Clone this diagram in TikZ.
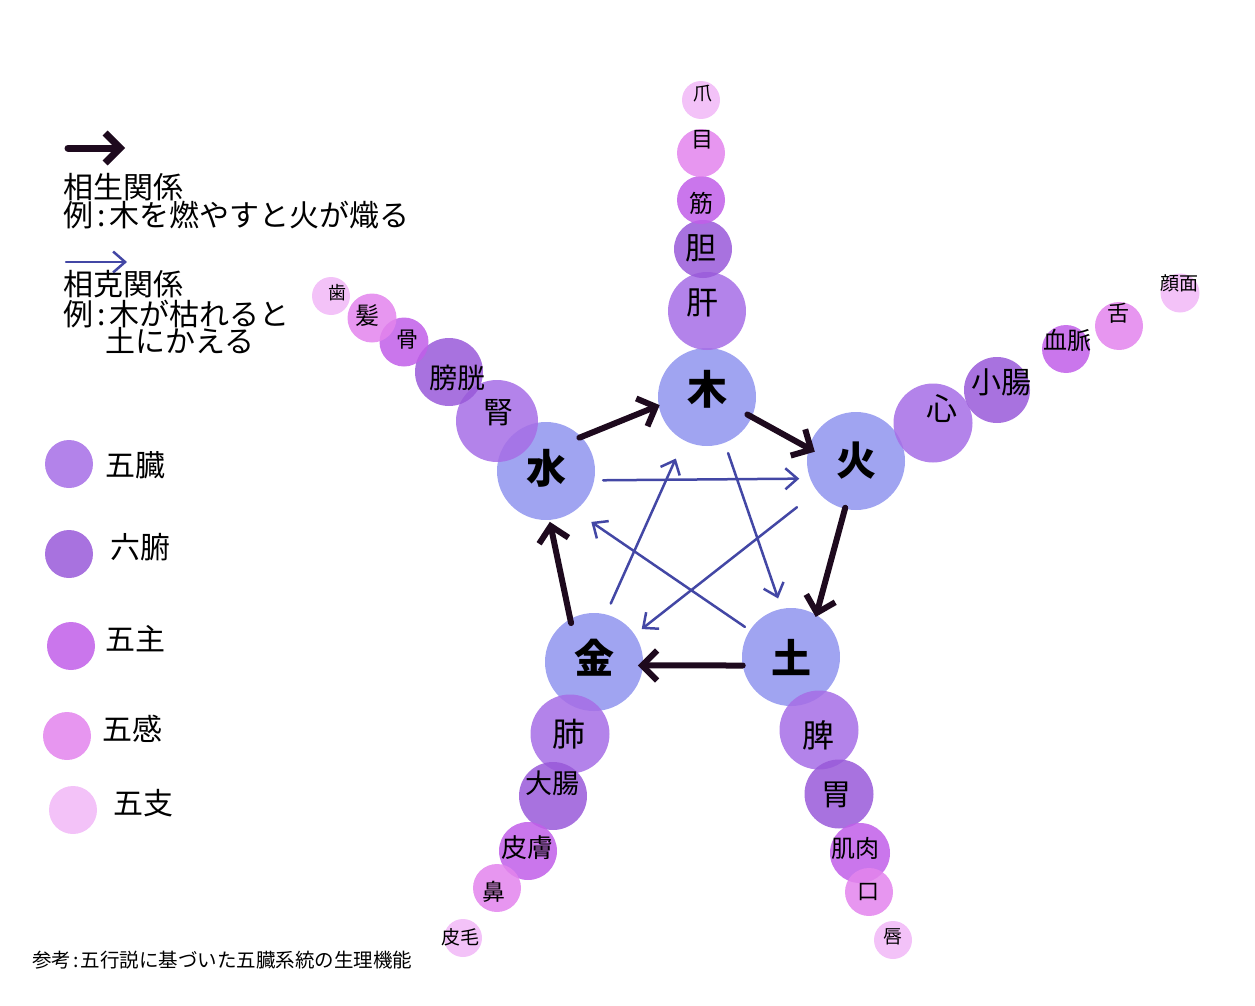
\documentclass[tikz,border=0pt]{standalone}
\usepackage{fontspec}
\newfontfamily\jpfont{Noto Sans CJK JP}
\usetikzlibrary{arrows.meta}
\definecolor{elemblue}{RGB}{160,164,241}
\definecolor{gozocol}{RGB}{166,109,230}
\definecolor{roppucol}{RGB}{153,89,217}
\definecolor{goshucol}{RGB}{193,94,233}
\definecolor{gokancol}{RGB}{227,132,237}
\definecolor{goshicol}{RGB}{241,183,247}
\definecolor{shengcol}{RGB}{30,10,30}
\definecolor{kecol}{RGB}{67,71,165}
\newcommand\jpsize[1]{\jpfont\fontsize{#1}{#1}\selectfont}
\newcommand\jpcolon{\hspace{4pt}:\hspace{4pt}}

\begin{document}
\begin{tikzpicture}[x=1pt, y=-1pt,
  elem/.style={circle, fill=elemblue, inner sep=0pt, outer sep=0pt,
    minimum size=98pt, font=\jpsize{40}\bfseries},
  organ/.style={circle, inner sep=0pt, outer sep=0pt, fill opacity=0.85},
  gozo/.style={organ, fill=gozocol},
  roppu/.style={organ, fill=roppucol},
  goshu/.style={organ, fill=goshucol},
  gokan/.style={organ, fill=gokancol},
  goshi/.style={organ, fill=goshicol},
  lbl/.style={inner sep=0pt, text=black},
  sheng/.style={shengcol, line width=6pt, line cap=round,
    -{Straight Barb[length=15pt,width=30pt]}},
  ke/.style={kecol, line width=2.5pt, line cap=round,
    -{Straight Barb[length=12pt,width=21pt]}}]

\useasboundingbox (0,0) rectangle (1255,1006);

% Five elements
\node[elem] (moku) at (707,397) {\raisebox{8pt}[\height][\depth]{木}};
\node[elem] (ka)   at (856,461) {火};
\node[elem] (do)   at (791,657) {土};
\node[elem] (gon)  at (594,662) {\raisebox{4pt}[\height][\depth]{金}};
\node[elem] (sui)  at (546,471) {\raisebox{3pt}[\height][\depth]{水}};

% Wood chain
\node[gozo,  minimum size=78pt] (kan)   at (707,311) {};
\node[roppu, minimum size=58pt] (tan)   at (703,249) {};
\node[goshu, minimum size=48pt] (suji)  at (701,200) {};
\node[gokan, minimum size=48pt] (me)    at (701,153) {};
\node[goshi, minimum size=38pt] (tsume) at (701,100) {};
\node[lbl, font=\jpsize{32}] (kan-t)   at (702,303) {肝};
\node[lbl, font=\jpsize{31}] (tan-t)   at (701,248) {胆};
\node[lbl, font=\jpsize{24}] (suji-t)  at (701,203) {筋};
\node[lbl, font=\jpsize{22}] (me-t)    at (702,140) {目};
\node[lbl, font=\jpsize{19}] (tsume-t) at (703,94) {爪};

% Fire chain
\node[gozo,  minimum size=79pt] (shin)   at (933,423) {};
\node[roppu, minimum size=66pt] (shocho) at (997,390) {};
\node[goshu, minimum size=48pt] (ketsu)  at (1066,349) {};
\node[gokan, minimum size=48pt] (shita)  at (1119,326) {};
\node[goshi, minimum size=39pt] (ganmen) at (1180,293) {};
\node[lbl, font=\jpsize{31}] (shin-t)   at (942,409) {心};
\node[lbl, font=\jpsize{30}] (shocho-t) at (1001,382) {小腸};
\node[lbl, font=\jpsize{24}] (ketsu-t)  at (1067,340) {血脈};
\node[lbl, font=\jpsize{22}] (shita-t)  at (1118,313) {舌};
\node[lbl, font=\jpsize{19}] (ganmen-t) at (1179,283) {顔面};

% Earth chain
\node[gozo,  minimum size=79pt] (hi)        at (819,730) {};
\node[roppu, minimum size=69pt] (i)         at (839,794) {};
\node[goshu, minimum size=60pt] (kiniku)    at (860,853) {};
\node[gokan, minimum size=48pt] (kuchi)     at (869,892) {};
\node[goshi, minimum size=38pt] (kuchibiru) at (893,940) {};
\node[lbl, font=\jpsize{32}] (hi-t)        at (818,735) {脾};
\node[lbl, font=\jpsize{30}] (i-t)         at (836,795) {胃};
\node[lbl, font=\jpsize{24}] (kiniku-t)    at (855,848) {肌肉};
\node[lbl, font=\jpsize{22}] (kuchi-t)     at (868,892) {口};
\node[lbl, font=\jpsize{19}] (kuchibiru-t) at (893,937) {唇};

% Metal chain
\node[gozo,  minimum size=79pt] (hai)    at (570,734) {};
\node[roppu, minimum size=68pt] (daicho) at (553,796) {};
\node[goshu, minimum size=58pt] (hifu)   at (528,851) {};
\node[gokan, minimum size=48pt] (hana)   at (497,888) {};
\node[goshi, minimum size=38pt] (himo)   at (463,938) {};
\node[lbl, font=\jpsize{33}] (hai-t)    at (569,734) {肺};
\node[lbl, font=\jpsize{27}] (daicho-t) at (552,783) {大腸};
\node[lbl, font=\jpsize{26}] (hifu-t)   at (527,848) {皮膚};
\node[lbl, font=\jpsize{23}] (hana-t)   at (494,892) {鼻};
\node[lbl, font=\jpsize{19}] (himo-t)   at (460,937) {皮毛};

% Water chain
\node[gozo,  minimum size=82pt] (jin)  at (497,421) {};
\node[roppu, minimum size=68pt] (boko) at (449,372) {};
\node[goshu, minimum size=49pt] (hone) at (404,342) {};
\node[gokan, minimum size=49pt] (kami) at (372,318) {};
\node[goshi, minimum size=38pt] (ha)   at (331,296) {};
\node[lbl, font=\jpsize{30}] (jin-t)  at (498,413) {腎};
\node[lbl, font=\jpsize{28}] (boko-t) at (457,378) {膀胱};
\node[lbl, font=\jpsize{22}] (hone-t) at (407,340) {骨};
\node[lbl, font=\jpsize{24}] (kami-t) at (367,316) {髪};
\node[lbl, font=\jpsize{18}] (ha-t)   at (337,293) {歯};

% Generating cycle
\draw[sheng, shorten <=-2pt, shorten >=-1pt] (sui.44) -- (moku.190);
\draw[sheng, shorten <=-5pt, shorten >=-7pt] (moku.-24) -- (ka.165);
\draw[sheng, shorten <=-1pt, shorten >=-2pt] (ka.-103) -- (do.59);
\draw[sheng, shorten <=0pt, shorten >=-5pt] (do.190) -- (gon.-4);
\draw[sheng, shorten <=-4pt, shorten >=2pt] (gon.119) -- (sui.-86);

% Controlling cycle
\draw[ke, shorten <=9pt, shorten >=11pt] (sui.-11) -- (ka.201);
\draw[ke, shorten <=26pt, shorten >=9pt] (ka.218) -- (gon.34);
\draw[ke, shorten <=12pt, shorten >=20pt] (gon.76) -- (moku.242);
\draw[ke, shorten <=11pt, shorten >=11pt] (moku.-69) -- (do.101);
\draw[ke, shorten <=6pt, shorten >=20pt] (do.147) -- (sui.-54);

% Legend: arrows
\coordinate (sheng-a) at (68,148);
\coordinate (sheng-b) at (125,148);
\draw[sheng, line width=7pt] (sheng-a) -- (sheng-b);
\node[lbl, anchor=west, font=\jpsize{30}] (sheng-t1) at (63,187) {相生関係};
\node[lbl, anchor=west, font=\jpsize{30}] (sheng-t2) at (63,215) {例\jpcolon 木を燃やすと火が熾る};
\coordinate (ke-a) at (66,262);
\coordinate (ke-b) at (127,262);
\draw[ke] (ke-a) -- (ke-b);
\node[lbl, anchor=west, font=\jpsize{30}] (ke-t1) at (63,284) {相克関係};
\node[lbl, anchor=west, font=\jpsize{30}] (ke-t2) at (63,314) {例\jpcolon 木が枯れると};
\node[lbl, anchor=west, font=\jpsize{30}] (ke-t3) at (105,341) {土にかえる};

% Legend: circles
\node[gozo,  minimum size=48pt] (key-gozo)  at (69,464) {};
\node[roppu, minimum size=48pt] (key-roppu) at (69,554) {};
\node[goshu, minimum size=48pt] (key-goshu) at (71,646) {};
\node[gokan, minimum size=48pt] (key-gokan) at (67,736) {};
\node[goshi, minimum size=48pt] (key-goshi) at (73,810) {};
\node[lbl, font=\jpsize{30}] (key-gozo-t)  at (135,465) {五臓};
\node[lbl, font=\jpsize{30}] (key-roppu-t) at (140,547) {六腑};
\node[lbl, font=\jpsize{30}] (key-goshu-t) at (135,639) {五主};
\node[lbl, font=\jpsize{30}] (key-gokan-t) at (132,729) {五感};
\node[lbl, font=\jpsize{30}] (key-goshi-t) at (143,803) {五支};

% Source
\node[lbl, anchor=west, font=\jpsize{19.5}] (source) at (32,960) {参考\hspace{2pt}:\hspace{2pt}五行説に基づいた五臓系統の生理機能};

\end{tikzpicture}
\end{document}
